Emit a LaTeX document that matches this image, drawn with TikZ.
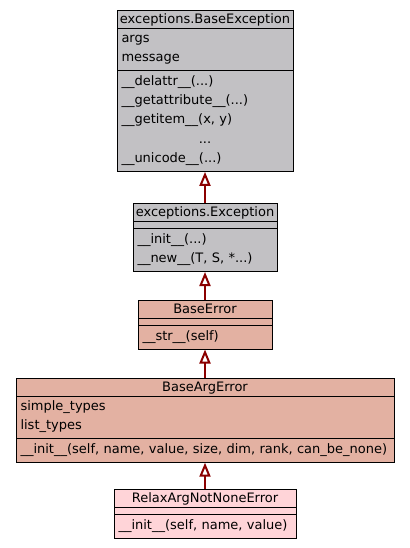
\documentclass[tikz,border=0pt]{standalone}
\usepackage{fontspec}
\setmainfont{DejaVu Sans}
\usetikzlibrary{shapes.multipart,arrows.meta}
\setlength{\parindent}{0pt}
\definecolor{basegrey}{HTML}{C2C1C4}
\definecolor{errsalmon}{HTML}{E3B1A2}
\definecolor{leafpink}{HTML}{FFD4D8}
\definecolor{arrowred}{HTML}{8B0000}
\newcommand{\hrow}{\rule[-2.5pt]{0pt}{13.6pt}}
\newcommand{\mrow}{\rule[-7pt]{0pt}{19.3pt}}
\newcommand{\noattr}{\rule{0pt}{3.6pt}}
\newcommand{\ctitle}[1]{\makebox[\hsize]{\hrow #1}}
\tikzset{
  umlclass/.style={draw=black, line width=1pt, rectangle split, rectangle split parts=3,
    inner xsep=4.5pt, inner ysep=1.5pt, align=left, anchor=north,
    font=\fontsize{13}{19.3}\selectfont},
  inherit/.style={draw=arrowred, line width=2pt,
    -{Triangle[open, length=14pt, width=11pt, fill=white]}}
}
\begin{document}
\begin{tikzpicture}[x=1pt, y=1pt]
\useasboundingbox (0,0) rectangle (409,-548);
\node[umlclass, fill=basegrey, text width=167pt] (baseexc) at (205,-10) {\ctitle{exceptions.BaseException}
  \nodepart{two}\mrow args\\\mrow message
  \nodepart{three}\mrow \_\_delattr\_\_(...)\\\mrow \_\_getattribute\_\_(...)\\\mrow \_\_getitem\_\_(x, y)\\\makebox[\hsize]{\mrow ...}\\\mrow \_\_unicode\_\_(...)};
\node[umlclass, fill=basegrey, text width=135pt] (exc) at (205,-203) {\ctitle{exceptions.Exception}
  \nodepart{two}\noattr
  \nodepart{three}\mrow \_\_init\_\_(...)\\\mrow \_\_new\_\_(T, S, *...)};
\node[umlclass, fill=errsalmon, text width=125pt] (baseerr) at (205,-300) {\ctitle{BaseError}
  \nodepart{two}\noattr
  \nodepart{three}\mrow \_\_str\_\_(self)};
\node[umlclass, fill=errsalmon, text width=369pt] (baseargerr) at (205,-378) {\ctitle{BaseArgError}
  \nodepart{two}\mrow simple\_types\\\mrow list\_types
  \nodepart{three}\mrow \_\_init\_\_(self, name, value, size, dim, rank, can\_be\_none)};
\node[umlclass, fill=leafpink, text width=173pt] (relaxerr) at (205,-489) {\ctitle{RelaxArgNotNoneError}
  \nodepart{two}\noattr
  \nodepart{three}\mrow \_\_init\_\_(self, name, value)};
\draw[inherit] (exc.north) -- (baseexc.south);
\draw[inherit] (baseerr.north) -- (exc.south);
\draw[inherit] (baseargerr.north) -- (baseerr.south);
\draw[inherit] (relaxerr.north) -- (baseargerr.south);
\end{tikzpicture}
\end{document}
